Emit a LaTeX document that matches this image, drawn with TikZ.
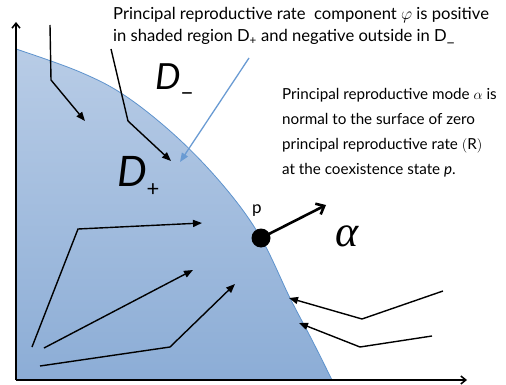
\documentclass[tikz,border=0pt]{standalone}
\usepackage{fontspec}
\setmainfont{Lato}
\newfontfamily\greekserif{Liberation Serif}
\usetikzlibrary{arrows.meta}
\definecolor{shtop}{RGB}{184,204,230}
\definecolor{shbot}{RGB}{140,173,214}
\definecolor{edgeblue}{RGB}{94,147,205}
\definecolor{arrblue}{RGB}{106,155,211}
\tikzset{
  flow/.style={line width=1.4pt,-{Triangle[length=9pt,width=7pt]}},
  axis/.style={line width=1.5pt,-{Straight Barb[length=5pt,width=8pt]}},
  toptxt/.style={font=\fontsize{16.6}{22}\selectfont,anchor=west,inner sep=0pt,align=left},
  txt/.style={font=\fontsize{15.2}{25}\selectfont,anchor=west,inner sep=0pt,align=left},
  bigD/.style={font=\fontsize{36}{36}\itshape,inner sep=0pt}
}
\begin{document}
\begin{tikzpicture}[x=1pt,y=-1pt]
\useasboundingbox (0,0) rectangle (506,385);
% shaded region
\shade[top color=shtop,bottom color=shbot]
  plot[smooth,tension=0.6] coordinates {(16,49) (80,72) (127,97) (180,140) (227,190) (261,238) (290,298) (312,340) (332,380)}
  -- (16,380) -- cycle;
\draw[edgeblue,line width=0.8pt]
  plot[smooth,tension=0.6] coordinates {(16,49) (80,72) (127,97) (180,140) (227,190) (261,238) (290,298) (312,340) (332,380)};
% axes
\coordinate (o) at (16,380);
\coordinate (yend) at (16,22);
\coordinate (xend) at (467,380);
\draw[axis] (o) -- (yend);
\draw[axis] (o) -- (xend);
% texts
\node[toptxt] (t1) at (113,15) {Principal reproductive rate\ \ component $\varphi$ is positive};
\node[toptxt] (t2) at (113,37) {in shaded region D\textsubscript{+} and negative outside in D\_};
\node[txt] (t3) at (282,133) {Principal reproductive mode $\alpha$ is\\normal to the surface of zero\\principal reproductive rate $\Bigl($R$\Bigr)$\\at the coexistence state \textit{p}.};
% D labels
\node[bigD,anchor=base west] (dm) at (155,90) {D};
\node[font=\fontsize{24}{24}\selectfont,inner sep=0pt] (dmsub) at (187,97) {–};
\node[bigD,anchor=base west,font=\fontsize{42}{42}\itshape] (dp) at (117,186) {D};
\node[font=\fontsize{22}{22}\selectfont,inner sep=0pt] (dpsub) at (153,190) {+};
% point p
\node[circle,fill=black,minimum size=19pt,inner sep=0pt] (p) at (261,238) {};
\node[font=\fontsize{17}{17}\selectfont,inner sep=0pt] (plab) at (257,211) {p};
\coordinate (atip) at (326,205);
\draw[line width=2.6pt,-{Straight Barb[length=7pt,width=12pt]}] (p.center) -- (atip);
\node[inner sep=0pt,font=\greekserif\itshape\fontsize{44}{44}\selectfont] (alab) at (347,236) {α};
% blue arrow
\coordinate (b0) at (249,58);
\coordinate (b1) at (180,162);
\draw[arrblue,line width=1.3pt,-{Triangle[length=9pt,width=7pt]}] (b0) -- (b1);
% black arrows
\coordinate (a1s) at (50,25); \coordinate (a1m) at (51,80); \coordinate (a1e) at (85,121);
\draw[flow] (a1s) -- (a1m) -- (a1e);
\coordinate (a2s) at (111,49); \coordinate (a2m) at (128,121); \coordinate (a2e) at (171,161);
\draw[flow] (a2s) -- (a2m) -- (a2e);
\coordinate (a3s) at (32,347); \coordinate (a3m) at (78,229); \coordinate (a3e) at (202,223);
\draw[flow] (a3s) -- (a3m) -- (a3e);
\coordinate (a4s) at (44,348); \coordinate (a4e) at (193,270);
\draw[flow] (a4s) -- (a4e);
\coordinate (a5s) at (40,366); \coordinate (a5m) at (170,347); \coordinate (a5e) at (235,284);
\draw[flow] (a5s) -- (a5m) -- (a5e);
\coordinate (a6s) at (443,291); \coordinate (a6m) at (362,319); \coordinate (a6e) at (289,298);
\draw[flow] (a6s) -- (a6m) -- (a6e);
\coordinate (a7s) at (432,336); \coordinate (a7m) at (360,347); \coordinate (a7e) at (299,323);
\draw[flow] (a7s) -- (a7m) -- (a7e);
\end{tikzpicture}
\end{document}
